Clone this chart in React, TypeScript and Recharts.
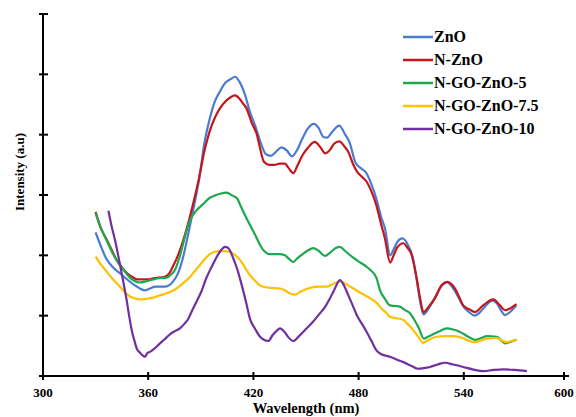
import { LineChart, Line, XAxis, YAxis, Legend } from 'recharts';

// wavelength (nm), intensity (a.u)
const zno: [number, number][] = [
  [330, 2.38], [333, 2.15], [336, 1.95], [340, 1.8], [344, 1.7], [348, 1.6], [352, 1.51], [356, 1.44],
  [358, 1.42], [361, 1.45], [364, 1.48], [368, 1.48], [371, 1.49], [374, 1.56], [377, 1.7], [380, 1.98],
  [383, 2.38], [386, 2.8], [389, 3.25], [392, 3.85], [395, 4.25], [398, 4.55], [401, 4.72], [404, 4.86],
  [407, 4.92], [409.5, 4.96], [412, 4.88], [415, 4.68], [418, 4.38], [421, 4.15], [424, 3.88], [427, 3.68],
  [430, 3.65], [433, 3.72], [436, 3.79], [439, 3.74], [442, 3.64], [445, 3.75], [448, 3.94], [451, 4.1],
  [454.5, 4.18], [457, 4.12], [460, 3.96], [462, 3.95], [465, 4.05], [469, 4.15], [472, 4.02], [475, 3.86],
  [478, 3.55], [481, 3.45], [484.5, 3.36], [487, 3.2], [490, 2.95], [493, 2.62], [495, 2.45], [498, 2.0],
  [500, 2.1], [502, 2.22], [505, 2.28], [508, 2.18], [511, 1.95], [513, 1.62], [515, 1.25], [517, 1.02],
  [520, 1.12], [523, 1.27], [527, 1.48], [530.5, 1.55], [534, 1.45], [537, 1.3], [540, 1.14], [543, 1.06],
  [546, 1.0], [549, 1.05], [552, 1.15], [556.5, 1.25], [559, 1.2], [561, 1.1], [563.5, 1.01], [566, 1.05],
  [570, 1.17],
];

const nZno: [number, number][] = [
  [330, 2.72], [333, 2.45], [336, 2.28], [339, 2.1], [342, 1.92], [345, 1.8], [348, 1.7], [351, 1.64],
  [354, 1.6], [357, 1.6], [360, 1.6], [363, 1.62], [366, 1.63], [369, 1.64], [372, 1.7], [374, 1.81],
  [377, 2.0], [380, 2.25], [383, 2.55], [386, 2.9], [389, 3.28], [392, 3.72], [395, 4.05], [398, 4.28],
  [401, 4.44], [404, 4.55], [407, 4.62], [409.5, 4.65], [412, 4.6], [414, 4.52], [416, 4.44], [419, 4.2],
  [422, 4.0], [424, 3.75], [426, 3.55], [429, 3.5], [432, 3.5], [435, 3.52], [438, 3.52], [440, 3.45],
  [442.8, 3.36], [445, 3.48], [448, 3.66], [451, 3.78], [455, 3.88], [458, 3.8], [461, 3.69], [464, 3.76],
  [466, 3.85], [469, 3.89], [472, 3.8], [474, 3.72], [477, 3.5], [479, 3.39], [482, 3.3], [484.6, 3.22],
  [487, 3.08], [490, 2.84], [493, 2.5], [495, 2.28], [498, 1.88], [500, 2.0], [502, 2.13], [505.5, 2.2],
  [508, 2.12], [510, 2.03], [513, 1.64], [515, 1.3], [517, 1.06], [520, 1.15], [523.6, 1.29], [527.4, 1.51],
  [530.6, 1.56], [535, 1.45], [539.7, 1.17], [543.5, 1.1], [546.4, 1.06], [551, 1.17], [556.8, 1.27],
  [560.6, 1.17], [563.5, 1.09], [566.4, 1.12], [570, 1.19],
];

const go5: [number, number][] = [
  [330, 2.7], [333, 2.45], [336.3, 2.25], [340, 2.02], [343.9, 1.84], [347, 1.72], [349.6, 1.63], [352, 1.58],
  [355.3, 1.55], [359, 1.57], [362.9, 1.6], [366, 1.62], [370.5, 1.63], [373, 1.68], [375.3, 1.76], [378, 1.98],
  [380, 2.2], [382, 2.42], [384, 2.59], [387.7, 2.75], [391, 2.84], [395, 2.95], [398, 2.99], [401, 3.02],
  [404.8, 3.04], [408, 2.99], [410.5, 2.95], [413, 2.8], [416, 2.62], [419, 2.45], [422, 2.28], [424, 2.16],
  [426.6, 2.06], [429, 2.02], [431.4, 2.02], [435, 2.02], [438, 2.0], [440, 1.95], [442.8, 1.89], [445, 1.95],
  [448.5, 2.03], [451, 2.08], [454.2, 2.12], [457, 2.08], [460.8, 1.99], [464, 2.05], [467, 2.12], [469.4, 2.14],
  [472, 2.08], [477, 1.96], [481, 1.88], [484.6, 1.81], [487, 1.75], [490.3, 1.62], [492.2, 1.42], [495, 1.28],
  [497.9, 1.17], [501, 1.16], [503.6, 1.15], [506, 1.1], [509.3, 1.04], [512, 0.92], [514.1, 0.81], [517.3, 0.62],
  [519.5, 0.65], [521.7, 0.68], [526, 0.74], [530.3, 0.79], [534, 0.77], [537.8, 0.73], [542, 0.66], [546.4, 0.6],
  [550, 0.63], [553.1, 0.66], [558.8, 0.65], [561, 0.6], [563.5, 0.54], [567, 0.57], [570.2, 0.6],
];

const go75: [number, number][] = [
  [330, 1.98], [333, 1.85], [336.3, 1.73], [340, 1.6], [343.9, 1.48], [347, 1.38], [349.6, 1.32], [352, 1.29],
  [355.3, 1.27], [359, 1.28], [362.9, 1.3], [366, 1.33], [370.5, 1.37], [373, 1.4], [376.2, 1.45], [380, 1.54],
  [383.8, 1.64], [386, 1.72], [389.5, 1.84], [392, 1.93], [395.2, 2.02], [398, 2.06], [401, 2.07], [403, 2.07],
  [406.6, 2.06], [410.5, 1.98], [413, 1.9], [416, 1.76], [418, 1.67], [421, 1.58], [423, 1.52], [425.6, 1.48],
  [430, 1.46], [435.2, 1.45], [438, 1.42], [440, 1.38], [443.7, 1.35], [447, 1.4], [452.3, 1.46], [457, 1.48],
  [461.8, 1.48], [465, 1.52], [469.4, 1.57], [473, 1.52], [477, 1.45], [481, 1.38], [486.5, 1.29], [490, 1.22],
  [493, 1.12], [496, 1.04], [497.9, 0.98], [501, 0.96], [505.5, 0.93], [508, 0.86], [511.2, 0.76], [514, 0.65],
  [516.9, 0.55], [520, 0.6], [524.5, 0.65], [529, 0.66], [534, 0.66], [540, 0.62], [543, 0.58], [546.4, 0.56],
  [550, 0.59], [553.1, 0.62], [558.8, 0.63], [561, 0.6], [564.5, 0.56], [567, 0.58], [570.2, 0.6],
];

const go10: [number, number][] = [
  [337.3, 2.74], [339, 2.5], [341.1, 2.25], [343, 1.98], [344.9, 1.7], [346.5, 1.45], [347.7, 1.26], [349, 1.02],
  [350.6, 0.76], [352, 0.6], [353.4, 0.46], [355.5, 0.38], [358.2, 0.32], [359.5, 0.38], [361, 0.4], [363, 0.44],
  [366.7, 0.54], [369, 0.6], [372.4, 0.69], [375, 0.74], [378.1, 0.79], [380.5, 0.86], [382.9, 0.95], [385, 1.08],
  [387.7, 1.24], [390, 1.38], [393.4, 1.64], [396, 1.8], [398.1, 1.92], [400, 2.02], [402, 2.1], [403.8, 2.14],
  [405.7, 2.12], [408.5, 1.95], [411, 1.75], [413.3, 1.51], [416, 1.2], [418, 0.95], [421, 0.78], [423.8, 0.65],
  [426, 0.6], [428.5, 0.58], [431, 0.68], [433, 0.74], [435.2, 0.79], [438, 0.72], [440, 0.64], [442.8, 0.58],
  [446, 0.66], [450.4, 0.79], [454, 0.9], [458, 1.04], [461, 1.15], [463.7, 1.29], [466, 1.42], [469.4, 1.59],
  [472, 1.48], [474.1, 1.34], [476.5, 1.18], [478.9, 1.01], [482, 0.86], [484.6, 0.73], [487, 0.6], [490.3, 0.42],
  [493, 0.36], [497.9, 0.32], [502, 0.27], [505.5, 0.23], [510, 0.17], [514, 0.12], [517, 0.13], [520.7, 0.15],
  [525, 0.19], [529.3, 0.22], [534, 0.19], [539.7, 0.15], [545, 0.11], [551.1, 0.08], [557, 0.1], [562.5, 0.11],
  [569, 0.1], [576, 0.08],
];

const xTicks = [300, 360, 420, 480, 540, 600];
const yTicks = [0, 1, 2, 3, 4, 5, 6];

const series = [
  { name: 'ZnO', color: '#4a7bd0', points: zno },
  { name: 'N-ZnO', color: '#c4161c', points: nZno },
  { name: 'N-GO-ZnO-5', color: '#1fa84f', points: go5 },
  { name: 'N-GO-ZnO-7.5', color: '#ffc000', points: go75 },
  { name: 'N-GO-ZnO-10', color: '#7030a0', points: go10 },
];

const font = '"Liberation Serif", "Times New Roman", serif';

const XTick = ({ x, y, payload }: any) => (
  <g>
    <line x1={x} x2={x} y1={y - 4} y2={y + 4} stroke="#000" strokeWidth={2} />
    <text x={x} y={y + 21} textAnchor="middle" fontFamily={font} fontWeight="bold" fontSize={13} fill="#000">
      {payload.value}
    </text>
  </g>
);

const YTick = ({ x, y }: any) => (
  <line x1={x - 4} x2={x + 5} y1={y} y2={y} stroke="#000" strokeWidth={2} />
);

const renderLegend = () => (
  <div style={{ fontFamily: font, fontWeight: 'bold', fontSize: 16, color: '#000' }}>
    {series.map(s => (
      <div key={s.name} style={{ display: 'flex', alignItems: 'center', height: 23.2 }}>
        <svg width={30} height={4} style={{ marginRight: 1 }}>
          <line x1={0} x2={30} y1={2} y2={2} stroke={s.color} strokeWidth={2.5} />
        </svg>
        <span>{s.name}</span>
      </div>
    ))}
  </div>
);

export default function App() {
  return (
    <div style={{ position: 'absolute', left: 0, top: 0, background: '#fff' }}>
      <LineChart width={576} height={417} margin={{ top: 14, right: 7, left: 0, bottom: 0 }}>
        <XAxis
          type="number"
          dataKey="wl"
          domain={[300, 600]}
          ticks={xTicks}
          allowDataOverflow
          height={41}
          tickSize={0}
          tickMargin={0}
          tickLine={false}
          tick={<XTick />}
          axisLine={{ stroke: '#000', strokeWidth: 2 }}
          label={() => (
            <text x={306} y={413} textAnchor="middle" fontFamily={font} fontWeight="bold" fontSize={14.5} fill="#000">
              Wavelength (nm)
            </text>
          )}
        />
        <YAxis
          type="number"
          domain={[0, 6]}
          ticks={yTicks}
          width={43}
          tickSize={0}
          tickMargin={0}
          tickLine={false}
          tick={<YTick />}
          axisLine={{ stroke: '#000', strokeWidth: 2 }}
          label={() => (
            <text x={24} y={172} transform="rotate(-90 24 172)" textAnchor="middle" fontFamily={font} fontWeight="bold" fontSize={13} fill="#000">
              Intensity (a.u)
            </text>
          )}
        />
        <Legend
          layout="vertical"
          align="center"
          verticalAlign="middle"
          content={renderLegend}
          wrapperStyle={{ position: 'absolute', left: 403, top: 25, width: 170, height: 120 }}
        />
        {series.map(s => (
          <Line
            key={s.name}
            name={s.name}
            data={s.points.map(([wl, v]) => ({ wl, v }))}
            dataKey="v"
            type="monotone"
            stroke={s.color}
            strokeWidth={2.2}
            dot={false}
            isAnimationActive={false}
          />
        ))}
      </LineChart>
    </div>
  );
}
